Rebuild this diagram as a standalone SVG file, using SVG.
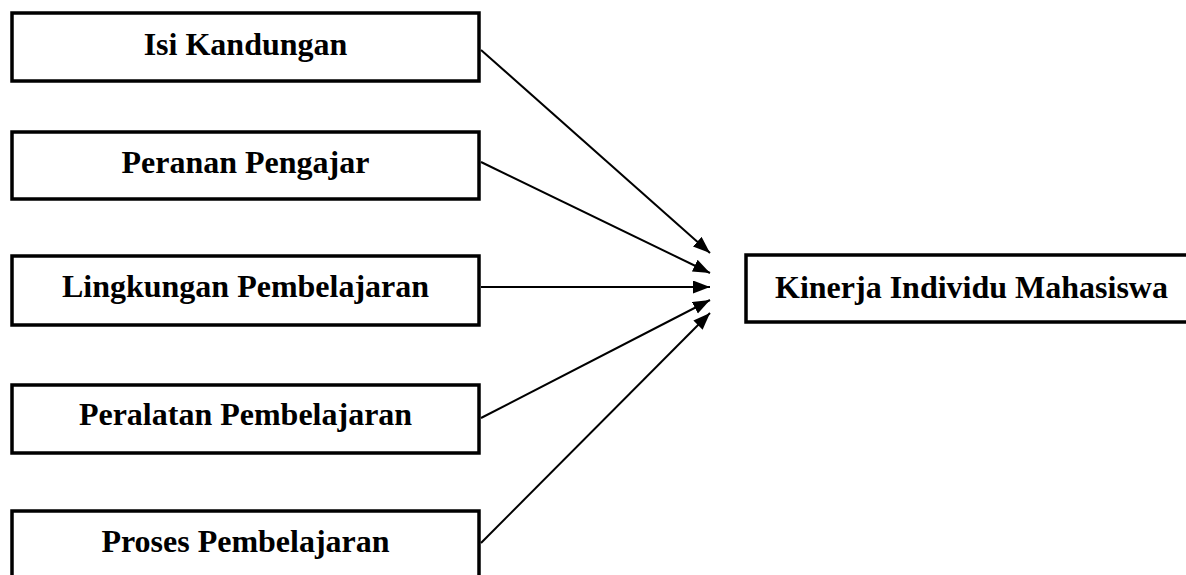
<svg xmlns="http://www.w3.org/2000/svg" width="1186" height="575" viewBox="0 0 1186 575">
<style>
.box{fill:#fff;stroke:#000;stroke-width:3.5}
.lbl{font-family:"Liberation Serif","Times New Roman",serif;font-weight:bold;font-size:32px;fill:#000}
.c{text-anchor:middle}
.conn line{stroke:#000;stroke-width:2}
</style>
<defs>
<marker id="ah" markerUnits="userSpaceOnUse" markerWidth="18" markerHeight="14" refX="17" refY="6.5" orient="auto">
<path d="M0,0 L17,6.5 L0,13 z" fill="#000"/>
</marker>
</defs>
<rect width="1186" height="575" fill="#fff"/>
<g id="n1"><rect class="box" x="12" y="13" width="467" height="68"/><text class="lbl c" x="245.5" y="55">Isi Kandungan</text></g>
<g id="n2"><rect class="box" x="12" y="132" width="467" height="67"/><text class="lbl c" x="245.5" y="173">Peranan Pengajar</text></g>
<g id="n3"><rect class="box" x="12" y="256" width="467" height="69"/><text class="lbl c" x="245.5" y="297">Lingkungan Pembelajaran</text></g>
<g id="n4"><rect class="box" x="12" y="385" width="467" height="68"/><text class="lbl c" x="245.5" y="425">Peralatan Pembelajaran</text></g>
<g id="n5"><rect class="box" x="12" y="511" width="467" height="70"/><text class="lbl c" x="245.5" y="552">Proses Pembelajaran</text></g>
<g id="n6"><rect class="box" x="746" y="255" width="460" height="67"/><text class="lbl" x="775" y="298">Kinerja Individu Mahasiswa</text></g>
<g class="conn" id="connectors">
<line x1="481" y1="50" x2="710" y2="253" marker-end="url(#ah)"/>
<line x1="481" y1="162" x2="710" y2="273" marker-end="url(#ah)"/>
<line x1="481" y1="287" x2="710" y2="287" marker-end="url(#ah)"/>
<line x1="481" y1="418" x2="710" y2="300" marker-end="url(#ah)"/>
<line x1="481" y1="543" x2="710" y2="313" marker-end="url(#ah)"/>
</g>
</svg>
